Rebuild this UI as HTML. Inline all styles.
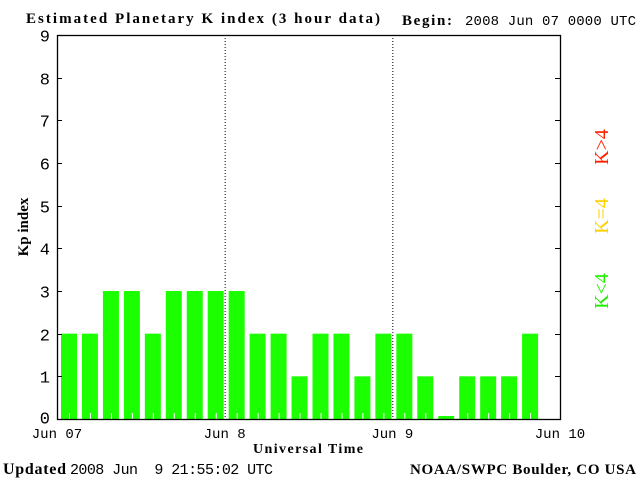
<!DOCTYPE html>
<html><head><meta charset="utf-8"><style>
body{margin:0;background:#fff;width:640px;height:480px;overflow:hidden}
svg{display:block}
text{font-family:"Liberation Mono",monospace;font-size:13px}
.s{font-family:"Liberation Serif",serif;font-weight:bold}
</style></head><body>
<svg id="c" width="640" height="480">
<text x="26" y="23" class="s" style="font-size:15px" textLength="354" lengthAdjust="spacing">Estimated Planetary K index (3 hour data)</text>
<text x="402" y="25" class="s" style="font-size:15px" textLength="50">Begin:</text>
<text x="465" y="25" style="font-size:14px" textLength="171">2008 Jun 07 0000 UTC</text>
<text x="3" y="474" class="s" style="font-size:16px" textLength="63">Updated</text>
<text x="70" y="474" style="font-size:15px" textLength="203" xml:space="preserve">2008 Jun  9 21:55:02 UTC</text>
<text x="410" y="474" class="s" style="font-size:15px" textLength="226">NOAA/SWPC Boulder, CO USA</text>
<text x="253" y="453" class="s" style="font-size:14px" textLength="110">Universal Time</text>
<text transform="translate(28,227) rotate(-90)" class="s" style="font-size:15px" text-anchor="middle">Kp index</text>
<text transform="translate(608,147) rotate(-90)" class="s" style="font-size:20px;font-weight:normal" fill="#ff2000" text-anchor="middle">K&gt;4</text>
<text transform="translate(608,216) rotate(-90)" class="s" style="font-size:20px;font-weight:normal" fill="#ffd000" text-anchor="middle">K=4</text>
<text transform="translate(608,291) rotate(-90)" class="s" style="font-size:20px;font-weight:normal" fill="#22ee00" text-anchor="middle">K&lt;4</text>
<g id="plot"></g>
</svg>
<script>
const kpValues=[2,2,3,3,2,3,3,3, 3,2,2,1,2,2,1,2, 2,1,0.07,1,1,1,2];
const yTicks=[0,1,2,3,4,5,6,7,8,9];
const dayLabels=["Jun 07","Jun 8","Jun 9","Jun 10"];
const L=57,R=560,T=35,B=419;
const x=i=>L+(R-L)*i/24;
const y=v=>B-(B-T)*v/9;
const g=document.getElementById('plot');
const NS='http://www.w3.org/2000/svg';
function mk(t,a){const e=document.createElementNS(NS,t);for(const k in a)e.setAttribute(k,a[k]);g.appendChild(e);return e;}
kpValues.forEach((v,i)=>{
 const c=v>4?'#ff2000':(v==4?'#ffd000':'#1cff00');
 const r=mk('rect',{x:x(i)+4,y:y(v),width:16,height:B-y(v),fill:c});
 
 
 if(v>=0.2){const m=mk('line',{x1:x(i)+12.5,x2:x(i)+12.5,y1:B-6,y2:B,stroke:'#fff'});
 
 }
});
[8,16].forEach(i=>{const l=mk('line',{x1:x(i)+.5,x2:x(i)+.5,y1:T,y2:B,stroke:'#000','stroke-dasharray':'1,2'});
 
 });
const f=mk('rect',{x:L+.5,y:T+.5,width:R-L,height:B-T,fill:'none',stroke:'#000','stroke-width':1.3});


yTicks.forEach(v=>{
 const yy=Math.round(y(v))+.5;
 mk('line',{x1:L,x2:L+5,y1:yy,y2:yy,stroke:'#000'});
 mk('line',{x1:R-5,x2:R,y1:yy,y2:yy,stroke:'#000'});
 const t=mk('text',{x:50,y:yy+6+(v==0?-2:0),'text-anchor':'end',style:'font-size:17px'});
 t.textContent=v;
 
 
});
dayLabels.forEach((d,i)=>{
 const t=mk('text',{x:x(i*8),y:438,'text-anchor':'middle',style:'font-size:14px'});
 t.textContent=d;
 
 
});
</script>
</body></html>
